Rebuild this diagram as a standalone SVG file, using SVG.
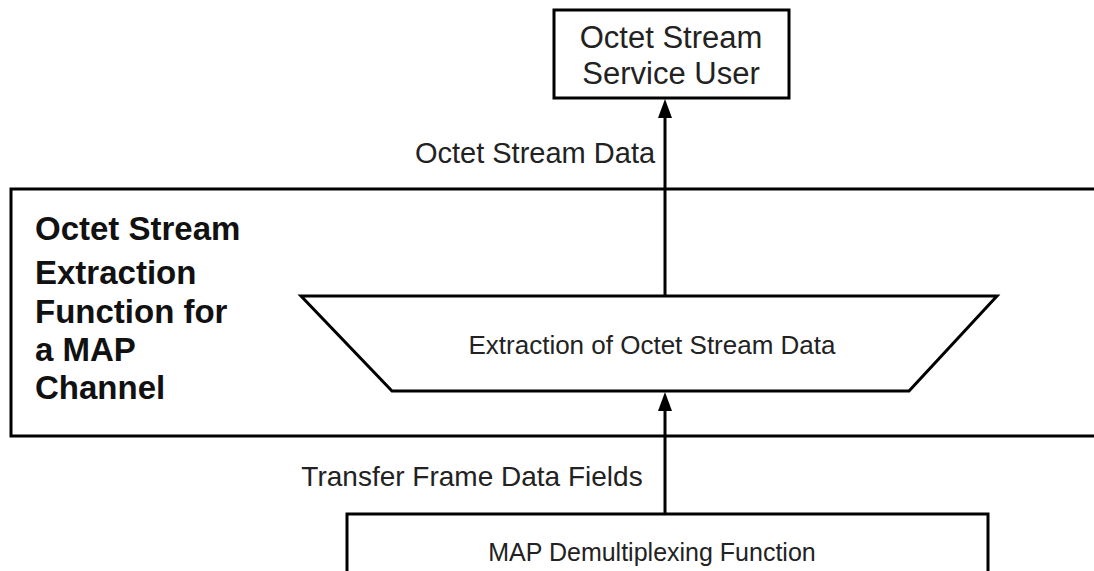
<svg xmlns="http://www.w3.org/2000/svg" width="1094" height="571" viewBox="0 0 1094 571">
<defs>
<style>
.box{fill:#fff;stroke:#000;stroke-width:3}
.t{font-family:"Liberation Sans",Arial,sans-serif;fill:#222;text-anchor:middle}
.b{font-family:"Liberation Sans",Arial,sans-serif;font-size:33px;font-weight:bold;fill:#111}
.ln{stroke:#000;stroke-width:3;fill:none}
.ah{fill:#000}
</style>
</defs>
<g id="extraction-function">
<path class="box" d="M1096,189 H11 V436 H1096"/>
<text class="b" x="35" y="240">Octet Stream</text>
<text class="b" x="35" y="284">Extraction</text>
<text class="b" x="35" y="323">Function for</text>
<text class="b" x="35" y="361">a MAP</text>
<text class="b" x="35" y="399">Channel</text>
</g>
<g id="service-user">
<rect class="box" x="554" y="10" width="235" height="88"/>
<text class="t" x="671" y="48" font-size="31">Octet Stream</text>
<text class="t" x="671" y="84" font-size="31">Service User</text>
</g>
<g id="extraction-data">
<polygon class="box" points="301,296 997,296 909,391 392,391"/>
<text class="t" x="652" y="354" font-size="26">Extraction of Octet Stream Data</text>
</g>
<g id="map-demux">
<path class="box" d="M347,575 V514 H988 V575"/>
<text class="t" x="652" y="561" font-size="25">MAP Demultiplexing Function</text>
</g>
<g id="connectors">
<line class="ln" x1="665" y1="296" x2="665" y2="112"/>
<polygon class="ah" points="665,99 672,118 658,118"/>
<line class="ln" x1="665" y1="514" x2="665" y2="405"/>
<polygon class="ah" points="665,392 672,411 658,411"/>
<text class="t" x="535" y="163" font-size="29">Octet Stream Data</text>
<text class="t" x="472" y="486" font-size="28">Transfer Frame Data Fields</text>
</g>
</svg>
